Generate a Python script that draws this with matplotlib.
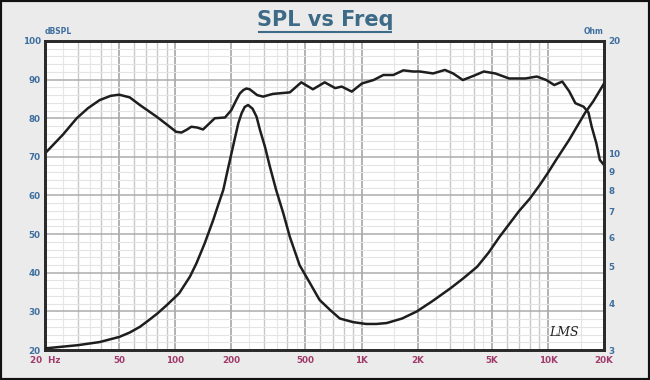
import matplotlib
matplotlib.use("Agg")
import matplotlib.pyplot as plt
from matplotlib.patches import Rectangle

# ---- data ----
spl_freq = [20, 25, 29.6, 34, 39.3, 45, 50, 57, 64.7, 79.5, 90, 101, 108, 115, 122, 131,
            141, 152, 163, 185, 200, 212, 222, 232, 241, 251, 262, 275, 296, 334, 412,
            475, 548, 634, 722, 782, 886, 1004, 1160, 1310, 1480, 1675, 1895, 2058, 2420,
            2800, 3100, 3495, 4000, 4530, 5220, 6190, 7570, 8720, 9800, 10820, 11950,
            13000, 14040, 15530, 16500, 17180, 18200, 19000, 20000]
spl_db = [70.9, 75.8, 80.0, 82.6, 84.7, 85.8, 86.1, 85.4, 83.4, 80.4, 78.4, 76.5, 76.3, 77.0,
          77.8, 77.6, 77.1, 78.6, 80.0, 80.2, 82.1, 84.6, 86.4, 87.3, 87.7, 87.5, 86.8,
          86.0, 85.6, 86.3, 86.7, 89.3, 87.5, 89.3, 87.8, 88.2, 86.9, 89.0, 89.9, 91.2,
          91.2, 92.4, 92.1, 92.1, 91.6, 92.5, 91.6, 89.9, 91.0, 92.1, 91.6, 90.3, 90.3,
          90.8, 89.9, 88.6, 89.5, 87.0, 83.9, 83.0, 81.5, 77.8, 73.5, 69.2, 67.9]

imp_freq = [20, 30, 39.3, 50, 57, 64.7, 72, 80, 90, 105, 120, 130, 144, 160, 170, 181, 193,
            206, 218, 227, 236, 246, 260, 273, 285, 303, 322, 348, 380, 412, 465, 529, 595,
            680, 764, 900, 1057, 1200, 1364, 1650, 1976, 2400, 2996, 3500, 4170, 4800, 5500,
            6200, 7000, 8000, 9040, 10000, 11050, 13000, 15880, 17500, 20000]
imp_ohm = [3.03, 3.09, 3.15, 3.25, 3.34, 3.46, 3.6, 3.75, 3.95, 4.25, 4.71, 5.11, 5.78, 6.67,
           7.31, 8.01, 9.25, 10.67, 12.07, 12.83, 13.34, 13.5, 13.2, 12.57, 11.58, 10.45,
           9.25, 8.01, 6.95, 6.01, 5.05, 4.52, 4.08, 3.83, 3.64, 3.56, 3.52, 3.52, 3.54,
           3.64, 3.80, 4.05, 4.38, 4.65, 5.0, 5.45, 6.01, 6.5, 7.04, 7.6, 8.26, 8.9, 9.63,
           10.9, 12.9, 13.8, 15.4]

x_ticks = [20, 50, 100, 200, 500, 1000, 2000, 5000, 10000, 20000]
x_labels = ["20  Hz", "50", "100", "200", "500", "1K", "2K", "5K", "10K", "20K"]
left_ticks = [20, 30, 40, 50, 60, 70, 80, 90, 100]
right_ticks = [3, 4, 5, 6, 7, 8, 9, 10, 20]

BG = "#ebebeb"
BLUE = "#3f6f9f"
RED = "#a03a6a"

fig = plt.figure(figsize=(6.5, 3.8), dpi=100, facecolor=BG)
fig.patches.append(Rectangle((0, 0), 1, 1, transform=fig.transFigure, fill=False,
                             edgecolor="#111111", linewidth=3, zorder=10))

ax = fig.add_axes([45/650, 1-350/380, (604-45)/650, (350-41)/380])
ax.set_facecolor("white")
ax.set_xscale("log")
ax.set_xlim(20, 20000)
ax.set_ylim(20, 100)

# vertical grid lines
for dec in [10, 100, 1000, 10000]:
    for m in [1.5, 2.5, 3.5, 4.5]:
        f = m * dec
        if 20 < f < 20000:
            ax.axvline(f, color="#e6e6e6", lw=0.8, zorder=0)
    for m in [3, 4, 6, 7, 8, 9]:
        f = m * dec
        if 20 < f < 20000:
            ax.axvline(f, color="#c8c8c8", lw=1.0, zorder=0)
    for m in [1, 2, 5]:
        f = m * dec
        if 20 < f < 20000:
            ax.axvline(f, color="#acacac", lw=1.3, zorder=0)
# horizontal grid lines
for v in range(22, 100, 2):
    if v % 10:
        ax.axhline(v, color="#e4e4e4", lw=0.8, zorder=0)
for v in range(30, 100, 10):
    ax.axhline(v, color="#acacac", lw=1.1, zorder=0)

ax.plot(spl_freq, spl_db, color="#1e1e1e", lw=1.8, zorder=3, solid_joinstyle="round")

ax.set_xticks(x_ticks)
ax.set_xticklabels(x_labels)
ax.xaxis.set_minor_locator(matplotlib.ticker.NullLocator())
ax.set_yticks(left_ticks)
ax.tick_params(axis="x", length=0, pad=4, labelsize=6.3, labelcolor=RED)
ax.tick_params(axis="y", length=0, pad=3, labelsize=6.3, labelcolor=BLUE)
for lab in ax.get_xticklabels() + ax.get_yticklabels():
    lab.set_fontweight("bold")
for s in ax.spines.values():
    s.set_color("#2a2a2a")
    s.set_linewidth(2)

ax2 = ax.twinx()
ax2.set_yscale("log")
ax2.set_ylim(3, 20)
ax2.plot(imp_freq, imp_ohm, color="#1e1e1e", lw=1.8, zorder=3, solid_joinstyle="round")
ax2.set_yticks(right_ticks)
ax2.set_yticklabels([str(t) for t in right_ticks])
ax2.yaxis.set_minor_locator(matplotlib.ticker.NullLocator())
ax2.tick_params(axis="y", length=0, pad=3, labelsize=6.3, labelcolor=BLUE)
for lab in ax2.get_yticklabels():
    lab.set_fontweight("bold")
for s in ax2.spines.values():
    s.set_color("#2a2a2a")
    s.set_linewidth(2)

fig.text(45/650, 1-36/380, "dBSPL", color=BLUE, fontsize=5.5, fontweight="bold",
         ha="left", va="bottom")
fig.text(603/650, 1-36/380, "Ohm", color=BLUE, fontsize=5.5, fontweight="bold",
         ha="right", va="bottom")

fig.text(0.5, 1-20/380, "SPL vs Freq", color="#3d6a86", fontsize=15,
         fontweight="bold", ha="center", va="center")
fig.add_artist(matplotlib.lines.Line2D([259/650, 391/650], [1-32/380, 1-32/380],
                                       color="#3d6a86", lw=1.5))

ax.text(0.955, 0.035, "LMS", transform=ax.transAxes, fontsize=9, fontstyle="italic",
        family="DejaVu Serif", color="#222222", ha="right", va="bottom")

fig.savefig("out.png", dpi=100, facecolor=BG)
